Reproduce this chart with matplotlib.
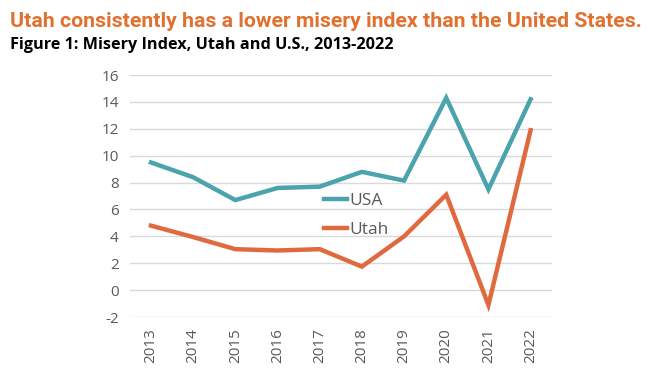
import matplotlib.pyplot as plt

years = ['2013', '2014', '2015', '2016', '2017', '2018', '2019', '2020', '2021', '2022']
usa = [9.5, 8.4, 6.7, 7.6, 7.7, 8.8, 8.15, 14.3, 7.5, 14.2]
utah = [4.8, 3.95, 3.05, 2.95, 3.05, 1.75, 4.0, 7.1, -1.1, 11.9]
yticks = list(range(-2, 17, 2))

teal = '#4BA3AE'
orange = '#E0693F'
gray = '#595959'

fig = plt.figure(figsize=(6.56, 3.89), dpi=100)
ax = fig.add_axes([0.198, 0.185, 0.643, 0.622])

x = range(len(years))
ax.plot(x, usa, color=teal, lw=3.2, label='USA', solid_joinstyle='miter')
ax.plot(x, utah, color=orange, lw=3.2, label='Utah', solid_joinstyle='miter')

ax.set_xlim(-0.5, 9.5)
ax.set_ylim(-2, 16)
ax.set_yticks(yticks)
ax.set_yticklabels([str(v) for v in yticks], fontsize=11, color=gray, family='Open Sans')
ax.set_xticks(list(x))
ax.set_xticklabels(years, rotation=90, fontsize=11, color=gray, family='Open Sans')
ax.tick_params(length=0, pad=8)
ax.grid(axis='y', color='#D9D9D9', lw=1)
ax.set_axisbelow(True)
for s in ax.spines.values():
    s.set_visible(False)

leg = ax.legend(loc='upper left', bbox_to_anchor=(0.44, 0.55), frameon=False,
                prop={'family': 'Open Sans', 'size': 12.5}, handlelength=1.3,
                handletextpad=0.15, labelspacing=0.75, borderpad=0)
for t in leg.get_texts():
    t.set_color(gray)

fig.text(0.015, 0.97, 'Utah consistently has a lower misery index than the United States.',
         color='#E0712F', fontsize=15.3, fontweight='bold', family='Roboto', va='top')
fig.text(0.015, 0.905, 'Figure 1: Misery Index, Utah and U.S., 2013-2022',
         color='black', fontsize=11.7, fontweight='bold', family='Open Sans', va='top')

fig.savefig('out.png', dpi=100)
